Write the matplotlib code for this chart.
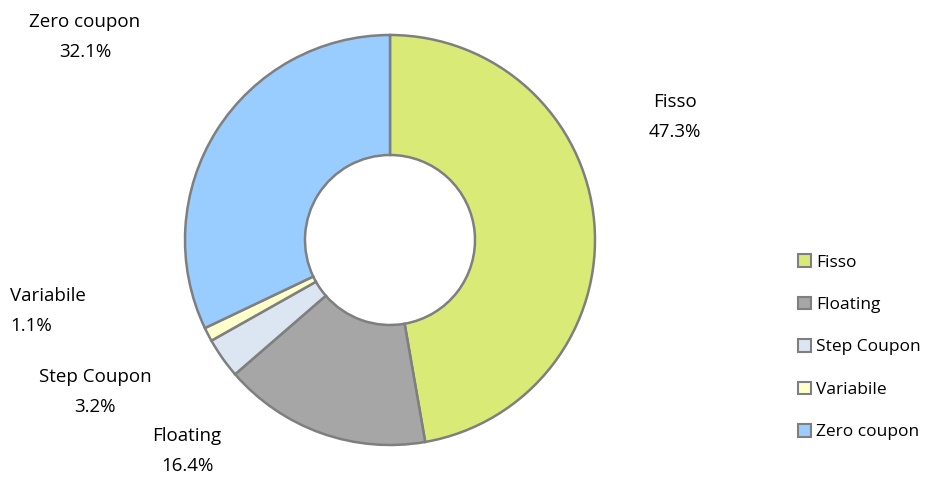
import matplotlib.pyplot as plt
from matplotlib.patches import Patch

labels = ['Fisso', 'Floating', 'Step Coupon', 'Variabile', 'Zero coupon']
values = [47.3, 16.4, 3.2, 1.1, 32.1]
colors = ['#D9EA76', '#A6A6A6', '#DCE6F2', '#FFFFCC', '#99CCFF']

plt.rcParams['font.family'] = ['Open Sans', 'DejaVu Sans']

fig = plt.figure(figsize=(9.31, 4.79), dpi=100)
ax = fig.add_axes([0, 0, 1, 1])

ax.pie(values, colors=colors, startangle=90, counterclock=False,
       center=(390, 239), radius=205,
       wedgeprops=dict(width=120, edgecolor='#7F7F7F', linewidth=1.8))

# pie() resets the limits, so set them afterwards (pixel coordinates)
ax.set_xlim(0, 931)
ax.set_ylim(0, 479)
ax.set_aspect('equal')
ax.axis('off')

# data labels, placed like the Excel original
lab_pos = {
    'Fisso': (675, 362, 'center'),
    'Floating': (187, 28, 'center'),
    'Step Coupon': (95, 87, 'center'),
    'Variabile': (10, 168, 'left'),
    'Zero coupon': (85, 442, 'center'),
}
for name, v in zip(labels, values):
    x, y, ha = lab_pos[name]
    ax.text(x, y, '%s\n%.1f%%' % (name, v), ha=ha, va='center',
            fontsize=13.5, linespacing=1.85)

handles = [Patch(facecolor=c, edgecolor='#7F7F7F', linewidth=1.5) for c in colors]
fig.legend(handles, labels, loc='center left', bbox_to_anchor=(0.84, 0.275),
           frameon=False, fontsize=12.5, handlelength=0.75, handleheight=0.75,
           handletextpad=0.3, labelspacing=1.5)

fig.savefig('out.png', dpi=100)
